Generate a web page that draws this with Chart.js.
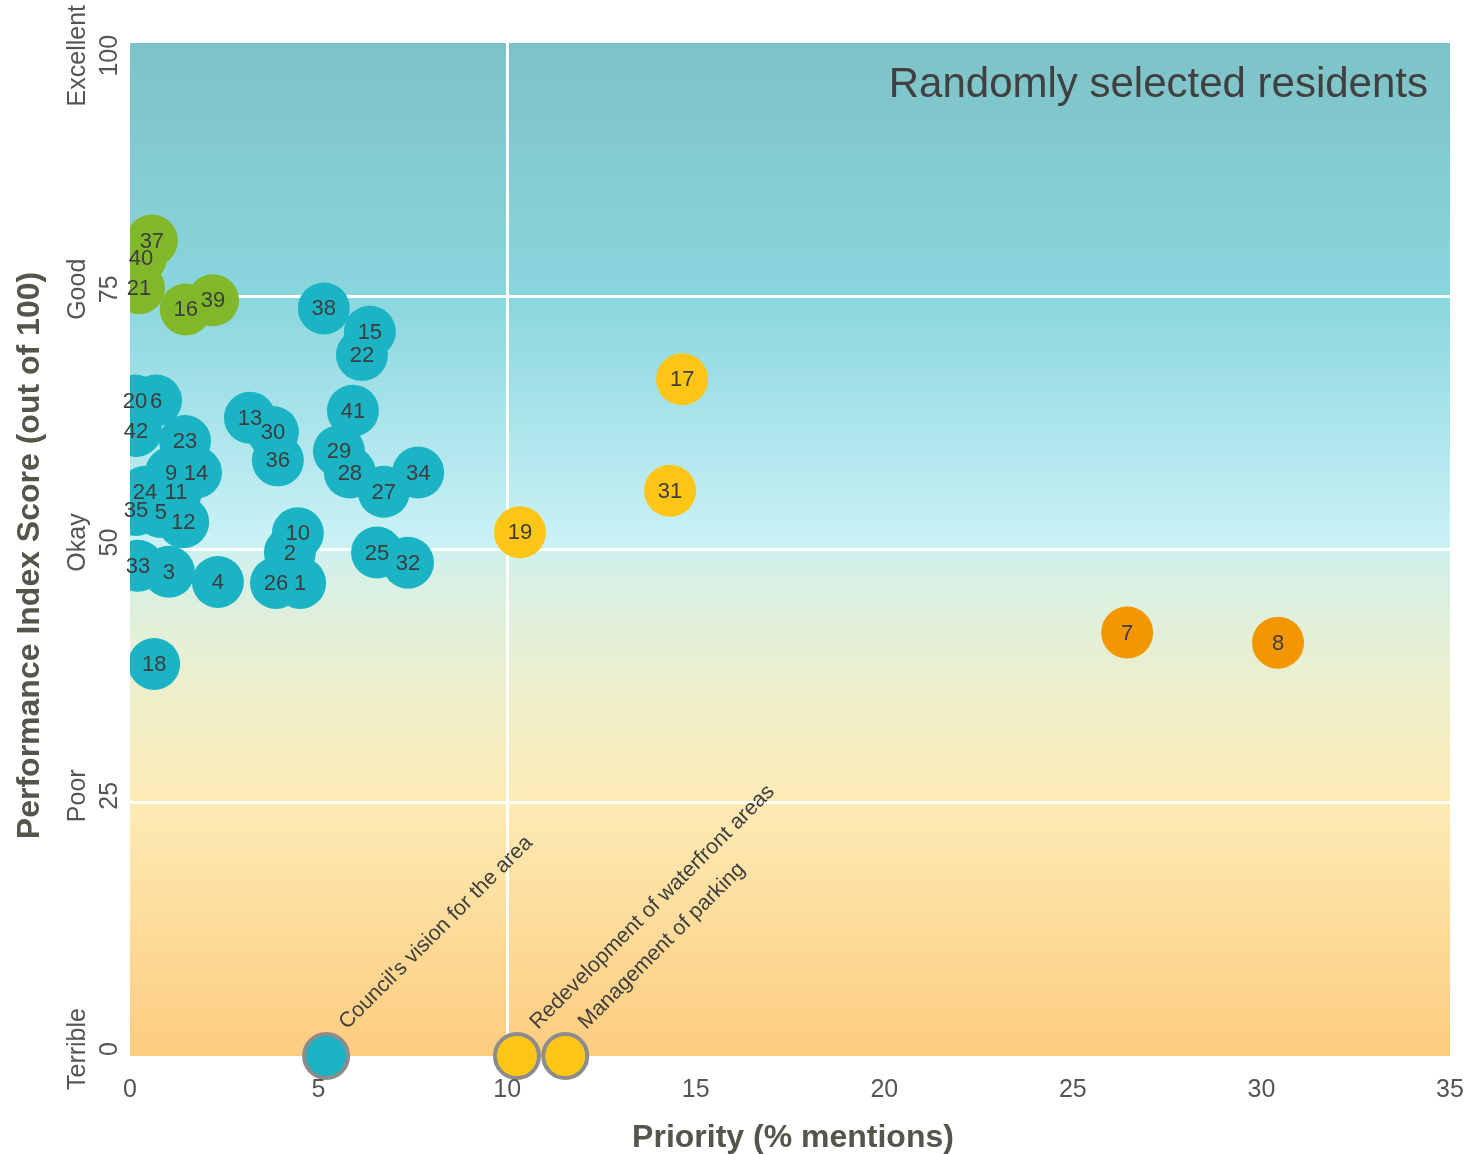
<!DOCTYPE html>
<html>
<head>
<meta charset="utf-8">
<script src="https://cdn.jsdelivr.net/npm/chart.js@4.4.1/dist/chart.umd.min.js"></script>
<style>
  html, body { margin: 0; padding: 0; background: #ffffff; }
  #wrap { width: 1468px; height: 1154px; position: relative; }
</style>
</head>
<body>
<div id="wrap"><canvas id="c" width="1468" height="1154"></canvas></div>
<script>
// ---------- DATA ----------
const cyanIds = ['20','6','42','23','9','14','24','11','35','5','12','33','3','4','18','13','30','36','38','15','22','41','29','28','27','34','10','2','26','1','25','32'];
const cyanX   = [0.13,0.69,0.16,1.46,1.09,1.75,0.40,1.22,0.16,0.82,1.41,0.21,1.03,2.33,0.64,3.18,3.79,3.92,5.14,6.36,6.15,5.91,5.54,5.83,6.73,7.64,4.45,4.24,3.87,4.51,6.55,7.37];
const cyanY   = [64.7,64.7,61.7,60.7,57.6,57.6,55.7,55.7,53.9,53.7,52.7,48.4,47.8,46.8,38.7,63.0,61.6,58.8,73.8,71.5,69.2,63.7,59.7,57.6,55.7,57.6,51.6,49.7,46.7,46.7,49.7,48.7];

const greenIds = ['37','40','21','16','39'];
const greenX   = [0.58,0.29,0.24,1.48,2.20];
const greenY   = [80.5,78.8,75.8,73.7,74.6];

const yellowIds = ['17','31','19'];
const yellowX   = [14.64,14.32,10.34];
const yellowY   = [66.8,55.8,51.7];

const orangeIds = ['7','8'];
const orangeX   = [26.44,30.44];
const orangeY   = [41.8,40.8];

const issueNames  = ["Council's vision for the area", 'Redevelopment of waterfront areas', 'Management of parking'];
const issueX      = [5.2, 10.26, 11.54];
const issueY      = [0, 0, 0];
const issueGroup  = ['cyan', 'yellow', 'yellow'];

const xTicks = [0,5,10,15,20,25,30,35];
const yTickValues = [0,25,50,75,100];
const yTickNames  = ['Terrible','Poor','Okay','Good','Excellent'];

const chartTitle = 'Randomly selected residents';
const xTitle = 'Priority (% mentions)';
const yTitle = 'Performance Index Score (out of 100)';

// ---------- STYLE ----------
const COLORS = { cyan: '#1bb4c5', green: '#80b82a', yellow: '#fdc515', orange: '#f39700' };
const FONT = '"Liberation Sans", Arial, Helvetica, sans-serif';
const TEXT = '#3d3d3d';
const AXIS_TEXT = '#555555';
const TITLE_TEXT = '#55554b';

function pts(xs, ys) { return xs.map((x, i) => ({ x: x, y: ys[i] })); }

function bubbleSet(ids, xs, ys, color) {
  return {
    data: pts(xs, ys),
    ids: ids,
    backgroundColor: color,
    borderColor: color,
    borderWidth: 0,
    pointRadius: 26,
    pointHoverRadius: 26,
    showLine: false,
    clip: 0
  };
}

const issueSet = {
  data: pts(issueX, issueY),
  names: issueNames,
  backgroundColor: issueGroup.map(g => COLORS[g]),
  borderColor: '#8c8c8c',
  borderWidth: 4,
  pointRadius: 22,
  pointHoverRadius: 22,
  showLine: false,
  clip: false
};

const decor = {
  id: 'decor',
  beforeDraw(chart) {
    const { ctx, chartArea: a } = chart;
    const g = ctx.createLinearGradient(0, a.top, 0, a.bottom);
    g.addColorStop(0.00, '#7dc2c7');
    g.addColorStop(0.25, '#8ad6de');
    g.addColorStop(0.49, '#c9f1f6');
    g.addColorStop(0.52, '#d6f0e6');
    g.addColorStop(0.63, '#ecefcd');
    g.addColorStop(0.75, '#fdebb5');
    g.addColorStop(1.00, '#fdcc7f');
    ctx.save();
    ctx.fillStyle = g;
    ctx.fillRect(a.left, a.top, a.right - a.left, a.bottom - a.top);
    ctx.restore();
  },
  afterDraw(chart) {
    const { ctx, chartArea: a } = chart;
    const xs = chart.scales.x;
    const ys = chart.scales.y;
    ctx.save();
    // x tick labels
    ctx.fillStyle = AXIS_TEXT;
    ctx.font = '25px ' + FONT;
    ctx.textAlign = 'center';
    ctx.textBaseline = 'middle';
    xTicks.forEach(v => ctx.fillText(String(v), xs.getPixelForValue(v), 1090));
    // y tick labels (rotated, two lines)
    yTickValues.forEach((v, i) => {
      let cy = ys.getPixelForValue(v) - 7;
      const w = Math.max(ctx.measureText(yTickNames[i]).width, ctx.measureText(String(v)).width);
      cy = Math.max(cy, 5 + w / 2);
      ctx.save();
      ctx.translate(78, cy);
      ctx.rotate(-Math.PI / 2);
      ctx.fillText(yTickNames[i], 0, 0);
      ctx.restore();
      ctx.save();
      ctx.translate(110, cy);
      ctx.rotate(-Math.PI / 2);
      ctx.fillText(String(v), 0, 0);
      ctx.restore();
    });
    // axis titles
    ctx.fillStyle = TITLE_TEXT;
    ctx.font = 'bold 32px ' + FONT;
    ctx.fillText(xTitle, (a.left + a.right) / 2 + 3, 1138);
    ctx.save();
    ctx.translate(30, (a.top + a.bottom) / 2 + 6);
    ctx.rotate(-Math.PI / 2);
    ctx.fillText(yTitle, 0, 0);
    ctx.restore();
    // chart title
    ctx.fillStyle = '#404040';
    ctx.font = '42px ' + FONT;
    ctx.textAlign = 'right';
    ctx.textBaseline = 'alphabetic';
    ctx.fillText(chartTitle, a.right - 22, 97);
    // bubble labels
    ctx.fillStyle = TEXT;
    ctx.font = '22px ' + FONT;
    ctx.textAlign = 'center';
    ctx.textBaseline = 'middle';
    chart.data.datasets.forEach((ds, di) => {
      const meta = chart.getDatasetMeta(di);
      if (ds.ids) {
        meta.data.forEach((el, j) => ctx.fillText(ds.ids[j], el.x, el.y + 1));
      }
    });
    // issue labels (rotated 45deg)
    ctx.font = '21.5px ' + FONT;
    ctx.textAlign = 'left';
    ctx.textBaseline = 'alphabetic';
    chart.data.datasets.forEach((ds, di) => {
      const meta = chart.getDatasetMeta(di);
      if (ds.names) {
        meta.data.forEach((el, j) => {
          ctx.save();
          ctx.translate(el.x + 21, el.y - 26);
          ctx.rotate(-Math.PI / 4);
          ctx.fillText(ds.names[j], 0, 0);
          ctx.restore();
        });
      }
    });
    ctx.restore();
  }
};

new Chart(document.getElementById('c'), {
  type: 'scatter',
  data: {
    datasets: [
      bubbleSet(cyanIds, cyanX, cyanY, COLORS.cyan),
      bubbleSet(greenIds, greenX, greenY, COLORS.green),
      bubbleSet(yellowIds, yellowX, yellowY, COLORS.yellow),
      bubbleSet(orangeIds, orangeX, orangeY, COLORS.orange),
      issueSet
    ]
  },
  options: {
    responsive: false,
    animation: false,
    layout: { autoPadding: false, padding: { top: 43, right: 18, left: 0, bottom: 0 } },
    plugins: { legend: { display: false }, tooltip: { enabled: false } },
    scales: {
      x: {
        type: 'linear', min: 0, max: 35,
        afterBuildTicks(s) { s.ticks = xTicks.map(v => ({ value: v })); },
        afterFit(s) { s.height = 98; },
        border: { display: false },
        grid: {
          drawTicks: false,
          lineWidth: 3,
          color: (c) => (c.tick && c.tick.value === 10) ? '#ffffff' : 'rgba(0,0,0,0)'
        },
        ticks: { display: false }
      },
      y: {
        type: 'linear', min: 0, max: 100,
        afterBuildTicks(s) { s.ticks = yTickValues.map(v => ({ value: v })); },
        afterFit(s) { s.width = 130; },
        border: { display: false },
        grid: {
          drawTicks: false,
          lineWidth: 3,
          color: (c) => (c.tick && c.tick.value > 0 && c.tick.value < 100) ? '#ffffff' : 'rgba(0,0,0,0)'
        },
        ticks: { display: false }
      }
    }
  },
  plugins: [decor]
});
</script>
</body>
</html>
